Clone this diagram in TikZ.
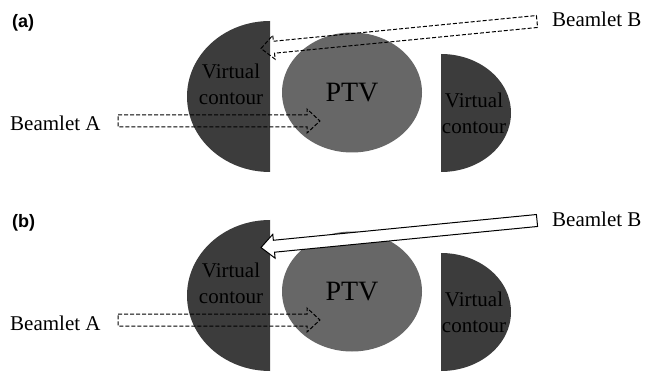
\documentclass[tikz,border=0pt]{standalone}
\usepackage{fontspec}
\setmainfont{Liberation Serif}
\newfontfamily\panelfont{Liberation Sans}
\usetikzlibrary{calc,shapes.geometric}

\definecolor{contourgray}{HTML}{3C3C3C}
\definecolor{ptvgray}{HTML}{676767}

\tikzset{
  beamtext/.style={font=\fontsize{21}{24}\selectfont, inner sep=0pt, anchor=base west},
  contourtext/.style={font=\fontsize{21}{26}\selectfont, align=center, inner sep=0pt},
  panel/.style={font=\panelfont\bfseries\fontsize{18}{20}\selectfont, inner sep=0pt, anchor=base west},
  beamdash/.style={draw=black, line width=1pt, dash pattern=on 4pt off 2pt},
  beamsolid/.style={draw=black, line width=1pt, fill=white},
}

% hollow block arrow: #1 style, #2 tail, #3 tip
\newcommand{\beamarrow}[3]{%
  \coordinate (hb) at ($(#3)!13pt!(#2)$);
  \draw[#1] ($(#2)!6pt!90:(#3)$) -- ($(hb)!6pt!90:(#3)$) -- ($(hb)!12pt!90:(#3)$) -- (#3)
    -- ($(hb)!12pt!-90:(#3)$) -- ($(hb)!6pt!-90:(#3)$) -- ($(#2)!6pt!-90:(#3)$) -- cycle;
}

\begin{document}
\begin{tikzpicture}[x=1pt,y=-1pt]
    \useasboundingbox (0,0) rectangle (645,374);
    \foreach \dy/\lab/\bstyle in {0/a/beamdash, 199/b/beamsolid}{
        \node[panel] (panel-\lab) at (12,28+\dy) {(\lab)};
        % virtual contours on both sides of the target
        \fill[contourgray] (270,21+\dy) arc[start angle=-90, end angle=-270, x radius=83, y radius=75.5] -- cycle;
        \fill[contourgray] (441,54+\dy) arc[start angle=-90, end angle=90, x radius=70, y radius=59] -- cycle;
        \node[ellipse, fill=ptvgray, minimum width=140pt, minimum height=120pt, inner sep=0pt,
              font=\fontsize{28}{30}\selectfont] (ptv-\lab) at (352,92.5+\dy) {PTV};
        \node[contourtext] (vcl-\lab) at (231,84+\dy) {Virtual\\contour};
        \node[contourtext] (vcr-\lab) at (474,113+\dy) {Virtual\\contour};
        % beamlets
        \node[beamtext] (beamA-\lab) at (10,131+\dy) {Beamlet A};
        \node[beamtext] (beamB-\lab) at (552,27+\dy) {Beamlet B};
        \coordinate (tailA-\lab) at (118,121+\dy);
        \coordinate (tipA-\lab) at (320,121+\dy);
        \coordinate (tailB-\lab) at (537,21.5+\dy);
        \coordinate (tipB-\lab) at (261,48.5+\dy);
        \beamarrow{beamdash}{tailA-\lab}{tipA-\lab}
        \beamarrow{\bstyle}{tailB-\lab}{tipB-\lab}
    }
\end{tikzpicture}
\end{document}
